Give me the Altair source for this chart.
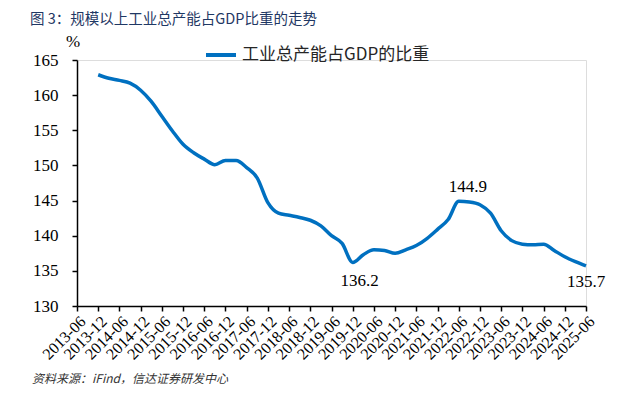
import json
import altair as alt
import pandas as pd

# quarterly observations (month offset counted from 2013-06)
periods = ["2013-12", "2014-03", "2014-06", "2014-09", "2014-12", "2015-03", "2015-06", "2015-09",
           "2015-12", "2016-03", "2016-06", "2016-09", "2016-12", "2017-03", "2017-06", "2017-09",
           "2017-12", "2018-03", "2018-06", "2018-09", "2018-12", "2019-03", "2019-06", "2019-09",
           "2019-12", "2020-03", "2020-06", "2020-09", "2020-12", "2021-03", "2021-06", "2021-09",
           "2021-12", "2022-03", "2022-06", "2022-09", "2022-12", "2023-03", "2023-06", "2023-09",
           "2023-12", "2024-03", "2024-06", "2024-09", "2024-12", "2025-03", "2025-06"]
values = [162.9, 162.4, 162.1, 161.7, 160.7, 159.1, 157.0, 154.9,
          153.0, 151.8, 150.9, 150.1, 150.7, 150.7, 149.7, 148.2,
          144.7, 143.2, 142.9, 142.6, 142.2, 141.4, 140.0, 138.9,
          136.2, 137.3, 138.0, 137.9, 137.5, 138.0, 138.6, 139.6,
          140.9, 142.3, 144.9, 144.8, 144.4, 143.2, 140.7, 139.3,
          138.8, 138.7, 138.8, 137.9, 137.0, 136.3, 135.7]
tick_labels = ["2013-06", "2013-12", "2014-06", "2014-12", "2015-06", "2015-12", "2016-06",
               "2016-12", "2017-06", "2017-12", "2018-06", "2018-12", "2019-06", "2019-12",
               "2020-06", "2020-12", "2021-06", "2021-12", "2022-06", "2022-12", "2023-06",
               "2023-12", "2024-06", "2024-12", "2025-06"]
y_ticks = [130, 135, 140, 145, 150, 155, 160, 165]
series_name = "工业总产能占GDP的比重"
ann_periods = ["2019-12", "2022-06", "2025-06"]
ann_values = [136.2, 144.9, 135.7]
ann_dx = [7, 9, 0]
ann_dy = [19, -14, 16]

title_text = "图 3：规模以上工业总产能占GDP比重的走势"
source_text = "资料来源：iFind，信达证券研发中心"


def month_index(p):
    y, m = p.split("-")
    return (int(y) - 2013) * 12 + int(m) - 6


df = pd.DataFrame({"t": [month_index(p) for p in periods], "v": values,
                   "series": [series_name] * len(values)})

label_expr = json.dumps(tick_labels) + "[round(datum.value/6)]"

x_enc = alt.X("t:Q", scale=alt.Scale(domain=[0, 144], nice=False, zero=False),
              axis=alt.Axis(values=list(range(0, 145, 6)), labelExpr=label_expr, title=None,
                            labelAngle=315, labelFont="Liberation Serif", labelFontSize=16,
                            labelColor="#000000", tickSize=5, tickColor="#000000",
                            domainColor="#000000", domainWidth=1.5, tickWidth=1.5,
                            labelPadding=2, grid=False, labelOverlap=False))
y_enc = alt.Y("v:Q", scale=alt.Scale(domain=[130, 165], nice=False, zero=False),
              axis=alt.Axis(values=y_ticks, title=None, labelFont="Liberation Serif",
                            labelFontSize=17, labelColor="#000000", tickSize=5,
                            tickColor="#000000", domainColor="#000000", domainWidth=1.5,
                            tickWidth=1.5, labelPadding=14, grid=False, labelOverlap=False))

line = alt.Chart(df).mark_line(strokeWidth=3.5, interpolate="monotone").encode(
    x=x_enc, y=y_enc,
    color=alt.Color("series:N", scale=alt.Scale(range=["#0070C0"]),
                    legend=alt.Legend(orient="none", legendX=127, legendY=-22, title=None,
                                      symbolType="stroke", symbolSize=900,
                                      symbolStrokeWidth=4, labelFont="Noto Sans CJK SC",
                                      labelFontSize=17, labelColor="#262626",
                                      labelOffset=4, padding=0, labelLimit=0))
)

layers = [line]
for p, v, dx, dy in zip(ann_periods, ann_values, ann_dx, ann_dy):
    d = pd.DataFrame({"t": [month_index(p)], "v": [v], "lab": [f"{v:.1f}"]})
    layers.append(alt.Chart(d).mark_text(font="Liberation Serif", fontSize=17, color="#000000",
                                         dx=dx, dy=dy, baseline="middle", align="center")
                  .encode(x=x_enc, y=y_enc, text="lab:N"))

texts = pd.DataFrame({"k": [0]})
title_mark = alt.Chart(texts).mark_text(text=title_text, font="Noto Sans CJK SC", fontSize=14.5,
                                        color="#1F3864", align="left", baseline="middle",
                                        fontWeight="normal").encode(
    x=alt.value(-47), y=alt.value(-40))
pct_mark = alt.Chart(texts).mark_text(text="%", font="Liberation Serif", fontSize=17,
                                      color="#000000", align="center", baseline="middle").encode(
    x=alt.value(-4), y=alt.value(-18))
src_mark = alt.Chart(texts).mark_text(text=source_text, font="Noto Sans CJK SC", fontSize=12,
                                      color="#333333", align="left", baseline="middle",
                                      fontStyle="italic").encode(
    x=alt.value(-45), y=alt.value(319))

chart = alt.layer(*layers, title_mark, pct_mark, src_mark).properties(
    width=509, height=246, autosize=alt.AutoSizeParams(type="none"),
    padding={"left": 69, "top": 52, "right": 27, "bottom": 85}
).configure_view(stroke=None).configure(background="white")

chart.save("out.html", embed_options={"renderer": "svg", "actions": False})
